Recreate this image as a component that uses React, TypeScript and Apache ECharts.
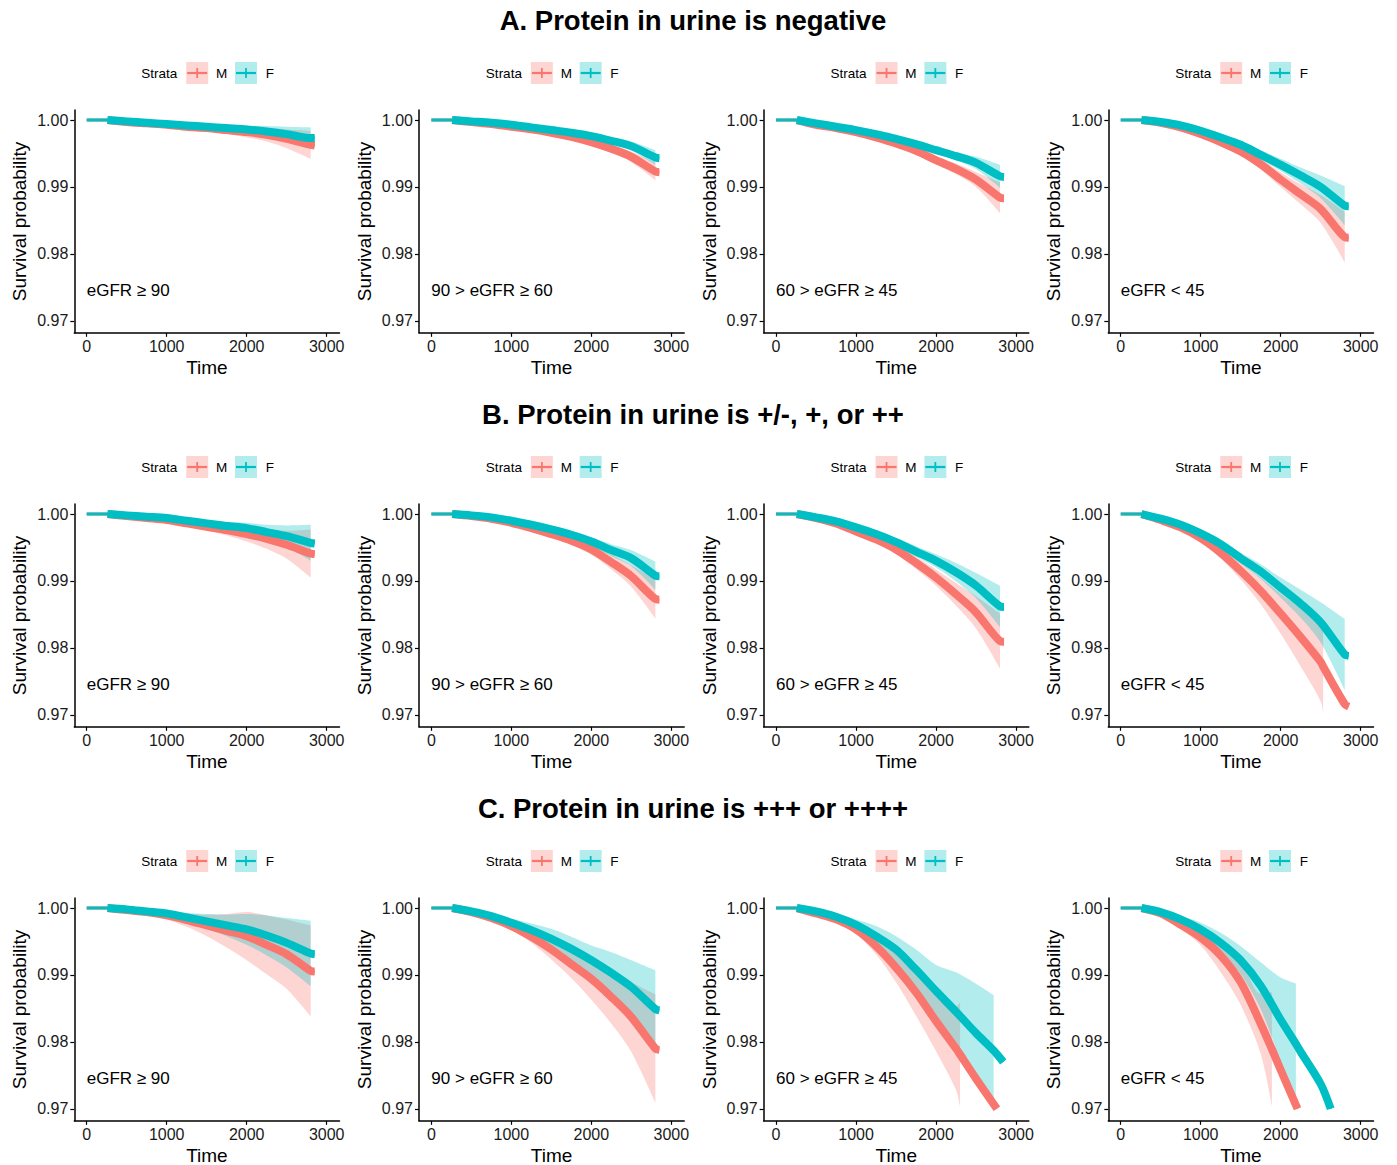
import React, { useEffect, useRef } from "react";
import * as echarts from "echarts";

type Row = [number, number, number | null];

const ROW_TITLES = [
  "A. Protein in urine is negative",
  "B. Protein in urine is +/-, +, or ++",
  "C. Protein in urine is +++ or ++++",
];
const PANEL_LABELS = ["eGFR ≥ 90", "90 > eGFR ≥ 60", "60 > eGFR ≥ 45", "eGFR < 45"];
const STRATA = ["M", "F"];
const X_TICKS = [0, 1000, 2000, 3000];
const Y_TICKS = [0.97, 0.98, 0.99, 1.0];

// rows: [time, survival, CI half-width (null = ribbon not drawn)]
const A1_M: Row[] = [[0,1,0],[260,1,0],[500,0.9997,0.0001],[750,0.9995,0.0002],[1000,0.9993,0.0003],[1250,0.999,0.0004],[1500,0.9988,0.0005],[1750,0.9985,0.0006],[2000,0.9982,0.0008],[2250,0.9978,0.001],[2500,0.9972,0.0014],[2800,0.9963,0.0021],[2850,0.9962,null]];
const A1_F: Row[] = [[0,1,0],[260,1,0],[500,0.9998,0.0001],[750,0.9996,0.0001],[1000,0.9994,0.0002],[1250,0.9992,0.0003],[1500,0.999,0.0004],[1750,0.9988,0.0005],[2000,0.9986,0.0006],[2250,0.9983,0.0008],[2500,0.9979,0.0011],[2800,0.9973,0.0016],[2850,0.9973,null]];
const A2_M: Row[] = [[0,1,0],[260,1,0],[500,0.9997,0.0001],[750,0.9994,0.0002],[1000,0.999,0.0002],[1250,0.9986,0.0003],[1500,0.9981,0.0003],[1750,0.9975,0.0004],[2000,0.9967,0.0005],[2250,0.9957,0.0006],[2500,0.9945,0.0008],[2800,0.9923,0.0013],[2850,0.9922,null]];
const A2_F: Row[] = [[0,1,0],[260,1,0],[500,0.9998,0.0001],[750,0.9996,0.0001],[1000,0.9993,0.0002],[1250,0.9989,0.0002],[1500,0.9985,0.0003],[1750,0.9981,0.0003],[2000,0.9976,0.0004],[2250,0.9969,0.0005],[2500,0.9961,0.0007],[2800,0.9944,0.0011],[2850,0.9943,null]];
const A3_M: Row[] = [[0,1,0],[260,1,0],[500,0.9993,0.0001],[750,0.9988,0.0002],[1000,0.9982,0.0002],[1250,0.9974,0.0003],[1500,0.9965,0.0004],[1750,0.9954,0.0005],[2000,0.994,0.0006],[2250,0.9927,0.0008],[2500,0.9911,0.0011],[2800,0.9884,0.0023],[2850,0.9883,null]];
const A3_F: Row[] = [[0,1,0],[260,1,0],[500,0.9995,0.0001],[750,0.999,0.0001],[1000,0.9985,0.0002],[1250,0.9979,0.0002],[1500,0.9972,0.0003],[1750,0.9964,0.0004],[2000,0.9955,0.0005],[2250,0.9946,0.0006],[2500,0.9936,0.0009],[2800,0.9916,0.0017],[2850,0.9915,null]];
const A4_M: Row[] = [[0,1,0],[260,1,0],[500,0.9996,0.0001],[750,0.9989,0.0002],[1000,0.9979,0.0003],[1250,0.9967,0.0005],[1500,0.9953,0.0006],[1750,0.9934,0.0008],[2000,0.9911,0.0011],[2250,0.9889,0.0015],[2500,0.9867,0.0021],[2800,0.9825,0.0038],[2850,0.9824,null]];
const A4_F: Row[] = [[0,1,0],[260,1,0],[500,0.9997,0.0001],[750,0.9992,0.0002],[1000,0.9984,0.0003],[1250,0.9974,0.0004],[1500,0.9963,0.0005],[1750,0.9948,0.0007],[2000,0.9933,0.0009],[2250,0.9917,0.0012],[2500,0.99,0.0017],[2800,0.9872,0.0029],[2850,0.9871,null]];

const B1_M: Row[] = [[0,1,0],[260,1,0],[500,0.9997,0.0001],[750,0.9994,0.0002],[1000,0.9991,0.0003],[1250,0.9986,0.0004],[1500,0.9981,0.0006],[1750,0.9976,0.0008],[2000,0.997,0.0011],[2250,0.9963,0.0015],[2500,0.9954,0.0021],[2800,0.9941,0.0036],[2850,0.994,null]];
const B1_F: Row[] = [[0,1,0],[260,1,0],[500,0.9998,0.0001],[750,0.9996,0.0001],[1000,0.9994,0.0002],[1250,0.999,0.0003],[1500,0.9986,0.0004],[1750,0.9982,0.0006],[2000,0.9979,0.0008],[2250,0.9973,0.0011],[2500,0.9967,0.0016],[2800,0.9957,0.0027],[2850,0.9956,null]];
const B2_M: Row[] = [[0,1,0],[260,1,0],[500,0.9997,0.0001],[750,0.9993,0.0002],[1000,0.9987,0.0003],[1250,0.9979,0.0004],[1500,0.997,0.0005],[1750,0.996,0.0006],[2000,0.9947,0.0008],[2250,0.9928,0.0011],[2500,0.9907,0.0016],[2800,0.9873,0.0029],[2850,0.9872,null]];
const B2_F: Row[] = [[0,1,0],[260,1,0],[500,0.9998,0.0001],[750,0.9995,0.0001],[1000,0.999,0.0002],[1250,0.9984,0.0003],[1500,0.9977,0.0004],[1750,0.9969,0.0005],[2000,0.9959,0.0006],[2250,0.9946,0.0009],[2500,0.9934,0.0012],[2800,0.9908,0.0021],[2850,0.9907,null]];
const B3_M: Row[] = [[0,1,0],[260,1,0],[500,0.9994,0.0001],[750,0.9986,0.0002],[1000,0.9974,0.0003],[1250,0.9962,0.0005],[1500,0.9947,0.0007],[1750,0.9927,0.0009],[2000,0.9905,0.0012],[2250,0.988,0.0017],[2500,0.9853,0.0024],[2800,0.981,0.0041],[2850,0.9809,null]];
const B3_F: Row[] = [[0,1,0],[260,1,0],[500,0.9995,0.0001],[750,0.9989,0.0002],[1000,0.998,0.0003],[1250,0.997,0.0004],[1500,0.9958,0.0006],[1750,0.9944,0.0008],[2000,0.993,0.001],[2250,0.9913,0.0014],[2500,0.9893,0.0019],[2800,0.9862,0.0031],[2850,0.9861,null]];
const B4_M: Row[] = [[0,1,0],[260,1,0],[500,0.9991,0.0001],[750,0.998,0.0003],[1000,0.9964,0.0005],[1250,0.9942,0.0008],[1500,0.9915,0.0013],[1750,0.9885,0.002],[2000,0.9851,0.003],[2250,0.9816,0.0044],[2500,0.9779,0.0059],[2530,0.9772,0.0069],[2800,0.9716,null],[2850,0.9712,null]];
const B4_F: Row[] = [[0,1,0],[260,1,0],[500,0.9993,0.0001],[750,0.9984,0.0002],[1000,0.9971,0.0004],[1250,0.9955,0.0006],[1500,0.9934,0.0008],[1750,0.9914,0.0011],[2000,0.989,0.0015],[2250,0.9866,0.0021],[2500,0.9838,0.003],[2800,0.979,0.0053],[2850,0.9788,null]];

const C1_M: Row[] = [[0,1,0],[260,1,0],[500,0.9997,0.0001],[750,0.9994,0.0003],[1000,0.9989,0.0006],[1250,0.9982,0.001],[1500,0.9974,0.0016],[1750,0.9966,0.0025],[2000,0.9958,0.0036],[2250,0.9945,0.0044],[2500,0.9931,0.0052],[2800,0.9906,0.0068],[2850,0.9905,null]];
const C1_F: Row[] = [[0,1,0],[260,1,0],[500,0.9998,0.0001],[750,0.9995,0.0002],[1000,0.9992,0.0004],[1250,0.9986,0.0007],[1500,0.998,0.0011],[1750,0.9974,0.0016],[2000,0.9968,0.0023],[2250,0.9959,0.003],[2500,0.9948,0.0037],[2800,0.9932,0.0049],[2850,0.9931,null]];
const C2_M: Row[] = [[0,1,0],[260,1,0],[500,0.9994,0.0001],[750,0.9985,0.0003],[1000,0.9973,0.0005],[1250,0.9957,0.0009],[1500,0.9938,0.0015],[1750,0.9916,0.0021],[2000,0.9894,0.0031],[2250,0.9867,0.004],[2500,0.9837,0.0052],[2800,0.979,0.0081],[2850,0.9788,null]];
const C2_F: Row[] = [[0,1,0],[260,1,0],[500,0.9995,0.0001],[750,0.9988,0.0003],[1000,0.9978,0.0006],[1250,0.9967,0.001],[1500,0.9954,0.0015],[1750,0.9939,0.0018],[2000,0.9922,0.0022],[2250,0.9903,0.0031],[2500,0.9882,0.004],[2800,0.9849,0.0058],[2850,0.9847,null]];
const C3_M: Row[] = [[0,1,0],[260,1,0],[500,0.9992,0.0001],[750,0.9983,0.0003],[1000,0.9968,0.0006],[1250,0.9943,0.0012],[1500,0.9911,0.0022],[1750,0.9874,0.0035],[2000,0.9831,0.0045],[2250,0.979,0.0062],[2300,0.9781,0.0078],[2500,0.9745,null],[2760,0.97,null]];
const C3_F: Row[] = [[0,1,0],[260,1,0],[500,0.9995,0.0001],[750,0.9987,0.0004],[1000,0.9975,0.0008],[1250,0.9958,0.0015],[1500,0.9938,0.002],[1750,0.9908,0.003],[2000,0.9876,0.0039],[2250,0.9845,0.0059],[2500,0.9813,0.0074],[2720,0.9787,0.0083],[2840,0.977,null]];
const C4_M: Row[] = [[0,1,0],[260,1,0],[500,0.9992,0.0002],[750,0.9975,0.0006],[1000,0.9956,0.0012],[1250,0.9929,0.0025],[1500,0.9889,0.0034],[1750,0.9827,0.0045],[1890,0.9789,0.0085],[2000,0.9758,null],[2210,0.97,null]];
const C4_F: Row[] = [[0,1,0],[260,1,0],[500,0.9994,0.0001],[750,0.9983,0.0005],[1000,0.9968,0.001],[1250,0.9948,0.0015],[1500,0.9922,0.0021],[1750,0.9884,0.0035],[2000,0.9833,0.0063],[2190,0.9797,0.009],[2250,0.9785,null],[2500,0.9737,null],[2625,0.97,null]];

const CURVES_M = [
  [A1_M, A2_M, A3_M, A4_M],
  [B1_M, B2_M, B3_M, B4_M],
  [C1_M, C2_M, C3_M, C4_M],
];
const CURVES_F = [
  [A1_F, A2_F, A3_F, A4_F],
  [B1_F, B2_F, B3_F, B4_F],
  [C1_F, C2_F, C3_F, C4_F],
];

const COL_M = "#F8766D";
const COL_F = "#00BFC4";
const FILL_M = "rgba(248,118,109,0.3)";
const FILL_F = "rgba(0,191,196,0.3)";
const FONT = '"Liberation Sans", Arial, sans-serif';

const X_MIN = -155;
const X_MAX = 3160;
const Y_MIN = 0.9682;
const Y_MAX = 1.0015;
const SMOOTH = 0.3;

// Ribbon: two stacked line series (lower bound + width), y stored in the first column so the stack runs on y.
function bandSeries(rows: Row[], fill: string, idx: number, key: string) {
  const pts = rows.filter((r) => r[2] !== null) as [number, number, number][];
  const stack = "band-" + idx + "-" + key;
  const common = {
    type: "line",
    xAxisIndex: idx,
    yAxisIndex: idx,
    stack,
    silent: true,
    symbol: "none",
    showSymbol: false,
    smooth: SMOOTH,
    clip: true,
    dimensions: ["v", "t"],
    encode: { x: 1, y: 0 },
    lineStyle: { opacity: 0, width: 0 },
  };
  const lower = {
    ...common,
    data: pts.map((r) => [r[1] - r[2], r[0]]),
  };
  const upper = {
    ...common,
    data: pts.map((r) => [Math.min(1, r[1] + r[2]) - (r[1] - r[2]), r[0]]),
    areaStyle: { color: fill, opacity: 1 },
  };
  return [lower, upper];
}

function lineSeries(rows: Row[], color: string, idx: number, width: number, from: number) {
  return {
    type: "line",
    xAxisIndex: idx,
    yAxisIndex: idx,
    clip: true,
    silent: true,
    showSymbol: false,
    symbol: "none",
    smooth: SMOOTH,
    data: rows.slice(from).map((r) => [r[0], r[1]]),
    lineStyle: { color, width, cap: "butt", join: "round" },
  };
}

function buildOption() {
  const grids: any[] = [];
  const xAxes: any[] = [];
  const yAxes: any[] = [];
  const series: any[] = [];
  const graphics: any[] = [];

  ROW_TITLES.forEach((t, r) => {
    graphics.push({
      type: "text",
      x: 693,
      y: 20 + 394 * r,
      style: {
        text: t,
        fill: "#000",
        fontSize: 27.5,
        fontWeight: "bold",
        fontFamily: FONT,
        align: "center",
        verticalAlign: "middle",
      },
    });
  });

  for (let r = 0; r < 3; r++) {
    for (let c = 0; c < 4; c++) {
      const idx = r * 4 + c;
      const x0 = 86.7 + 344.67 * c;
      const yTop = 110 + 394 * r;
      grids.push({
        left: x0 + X_MIN * 0.08,
        top: yTop,
        width: (X_MAX - X_MIN) * 0.08,
        height: 222.8,
        outerBoundsMode: "none",
        containLabel: false,
      });
      xAxes.push({
        type: "value",
        gridIndex: idx,
        min: X_MIN,
        max: X_MAX,
        name: "Time",
        nameLocation: "middle",
        nameGap: 25,
        nameTextStyle: { fontSize: 19, color: "#000", fontFamily: FONT },
        axisLine: { show: true, onZero: false, lineStyle: { color: "#000", width: 1.5 } },
        axisTick: { show: true, length: 4, lineStyle: { color: "#000", width: 1.2 }, customValues: X_TICKS },
        axisLabel: {
          show: true,
          margin: 6,
          fontSize: 16,
          color: "#1a1a1a",
          fontFamily: FONT,
          customValues: X_TICKS,
          formatter: (v: number) => String(v),
        },
        splitLine: { show: false },
      });
      yAxes.push({
        type: "value",
        gridIndex: idx,
        min: Y_MIN,
        max: Y_MAX,
        name: "Survival probability",
        nameLocation: "middle",
        nameGap: 45,
        nameTextStyle: { fontSize: 19, color: "#000", fontFamily: FONT },
        axisLine: { show: true, onZero: false, lineStyle: { color: "#000", width: 1.5 } },
        axisTick: { show: true, length: 4, lineStyle: { color: "#000", width: 1.2 }, customValues: Y_TICKS },
        axisLabel: {
          show: true,
          margin: 6,
          fontSize: 16,
          color: "#1a1a1a",
          fontFamily: FONT,
          customValues: Y_TICKS,
          formatter: (v: number) => v.toFixed(2),
        },
        splitLine: { show: false },
      });

      const m = CURVES_M[r][c];
      const f = CURVES_F[r][c];
      series.push(...bandSeries(m, FILL_M, idx, "M"));
      series.push(...bandSeries(f, FILL_F, idx, "F"));
      series.push(lineSeries(m, COL_M, idx, 3, 0));
      series.push(lineSeries(m, COL_M, idx, 8, 1));
      series.push(lineSeries(f, COL_F, idx, 3, 0));
      series.push(lineSeries(f, COL_F, idx, 8, 1));

      // panel annotation
      graphics.push({
        type: "text",
        x: x0,
        y: 290 + 394 * r,
        style: {
          text: PANEL_LABELS[c],
          fill: "#000",
          fontSize: 17,
          fontFamily: FONT,
          align: "left",
          verticalAlign: "middle",
        },
      });

      // legend
      const ly = 73 + 394 * r;
      graphics.push({
        type: "text",
        x: x0 + 54.5,
        y: ly,
        style: { text: "Strata", fill: "#000", fontSize: 13.5, fontFamily: FONT, align: "left", verticalAlign: "middle" },
      });
      const keys = [
        { bx: x0 + 99.5, fill: FILL_M, col: COL_M, label: STRATA[0], tx: x0 + 129.3 },
        { bx: x0 + 148.3, fill: FILL_F, col: COL_F, label: STRATA[1], tx: x0 + 179 },
      ];
      keys.forEach((k) => {
        graphics.push({
          type: "rect",
          shape: { x: k.bx, y: ly - 11, width: 22, height: 22 },
          style: { fill: k.fill },
        });
        graphics.push({
          type: "line",
          shape: { x1: k.bx + 1, y1: ly, x2: k.bx + 21, y2: ly },
          style: { stroke: k.col, lineWidth: 2.2 },
        });
        graphics.push({
          type: "line",
          shape: { x1: k.bx + 11, y1: ly - 5, x2: k.bx + 11, y2: ly + 5 },
          style: { stroke: k.col, lineWidth: 1.8 },
        });
        graphics.push({
          type: "text",
          x: k.tx,
          y: ly,
          style: { text: k.label, fill: "#000", fontSize: 13.5, fontFamily: FONT, align: "left", verticalAlign: "middle" },
        });
      });
    }
  }

  return {
    animation: false,
    backgroundColor: "#ffffff",
    textStyle: { fontFamily: FONT },
    grid: grids,
    xAxis: xAxes,
    yAxis: yAxes,
    series,
    graphic: { elements: graphics },
  };
}

export default function App() {
  const ref = useRef<HTMLDivElement>(null);
  useEffect(() => {
    document.body.style.margin = "0";
    if (!ref.current) return;
    const chart = echarts.init(ref.current, null, { renderer: "svg" });
    chart.setOption(buildOption() as any);
    return () => chart.dispose();
  }, []);
  return <div ref={ref} style={{ width: 1397, height: 1165, background: "#fff" }} />;
}
